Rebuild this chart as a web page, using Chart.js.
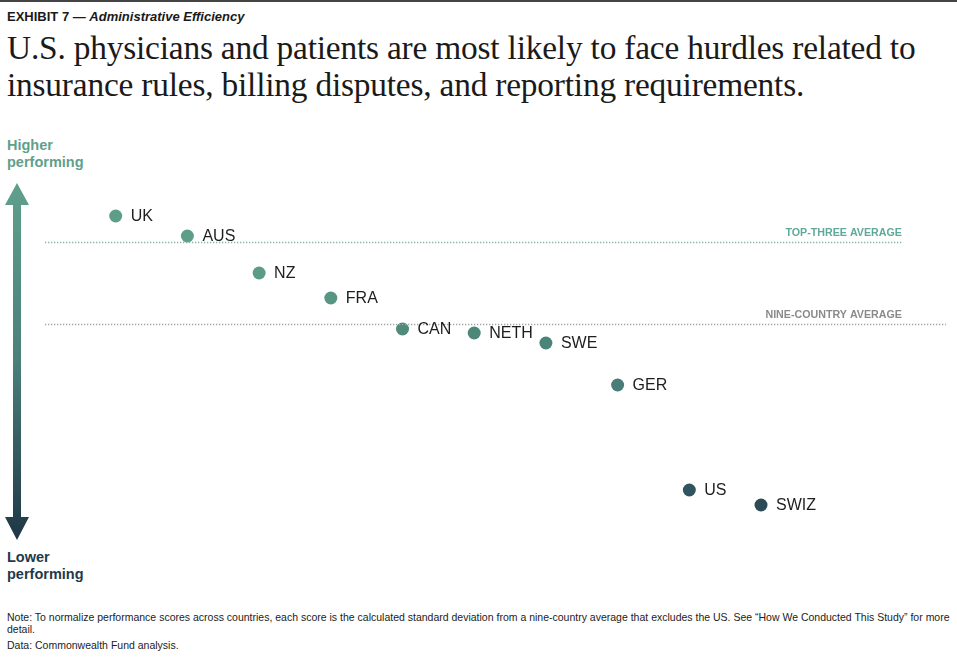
<!DOCTYPE html>
<html>
<head>
<meta charset="utf-8">
<script src="https://cdn.jsdelivr.net/npm/chart.js@4.4.1/dist/chart.umd.min.js"></script>
<style>
  body { margin: 0; background: #fff; width: 957px; height: 661px; overflow: hidden; position: relative; font-family: "Liberation Sans", Arial, sans-serif; }
  .topline { position: absolute; left: 0; top: 0; width: 957px; height: 2px; background: #444; }
  .exhibit { position: absolute; left: 7px; top: 9px; font-size: 13px; font-weight: bold; color: #1a1a1a; }
  .title { position: absolute; left: 7px; top: 29px; font-family: "Liberation Serif", "DejaVu Serif", serif; font-size: 33.4px; line-height: 37px; color: #1a1a1a; letter-spacing: -0.2px; }
  .side { position: absolute; left: 7px; font-size: 14.5px; font-weight: bold; line-height: 17px; }
  .note { position: absolute; left: 7px; font-size: 10.5px; color: #222; line-height: 12px; }
  #wrap { position: absolute; left: 44px; top: 180px; width: 902px; height: 360px; }
</style>
</head>
<body>
<div class="topline"></div>
<div class="exhibit">EXHIBIT 7 — <i>Administrative Efficiency</i></div>
<div class="title">U.S. physicians and patients are most likely to face hurdles related to<br>insurance rules, billing disputes, and reporting requirements.</div>
<div class="side" style="top:137px;color:#5fa08c;">Higher<br>performing</div>
<div class="side" style="top:549px;color:#1f3a4a;">Lower<br>performing</div>
<svg style="position:absolute;left:0;top:178px;" width="36" height="366">
  <defs>
    <linearGradient id="g" x1="0" y1="0" x2="0" y2="1">
      <stop offset="0" stop-color="#5fa08c"/>
      <stop offset="0.5" stop-color="#4a7f7a"/>
      <stop offset="1" stop-color="#1f3646"/>
    </linearGradient>
  </defs>
  <polygon points="17,5 29,27 21,27 21,339 29,339 17,362 5,339 13,339 13,27 5,27" fill="url(#g)"/>
</svg>
<div id="wrap"><canvas id="scatter"></canvas></div>
<div class="note" style="top:611px;width:948px;">Note: To normalize performance scores across countries, each score is the calculated standard deviation from a nine-country average that excludes the US. See “How We Conducted This Study” for more detail.</div>
<div class="note" style="top:639px;">Data: Commonwealth Fund analysis.</div>

<script>
// countries ordered left to right, score = std deviations from nine-country average
let countries = ['UK', 'AUS', 'NZ', 'FRA', 'CAN', 'NETH', 'SWE', 'GER', 'US', 'SWIZ'];
let scores = [1.08, 0.88, 0.51, 0.26, -0.05, -0.09, -0.19, -0.61, -1.66, -1.81];
let dotColors = ['#5e9e88', '#5e9e88', '#5c9b87', '#589684', '#4f8a7a', '#4d877a', '#4b8479', '#4a7d78', '#305561', '#2b4b57'];
let topThreeAvg = (scores[0] + scores[1] + scores[2]) / 3;
let nineAvg = 0;

// labels next to dots + dotted average lines
const extras = {
  id: 'extras',
  afterDatasetsDraw(chart) {
    const c = chart.ctx;
    const xs = chart.scales.x, ys = chart.scales.y;
    const area = chart.chartArea;
    c.save();
    const lines = [
      { v: topThreeAvg, label: 'TOP-THREE AVERAGE', color: '#5fa89a', lineColor: '#84b5aa', end: area.left + 859 },
      { v: nineAvg, label: 'NINE-COUNTRY AVERAGE', color: '#8a8a8a', lineColor: '#a3a3a3', end: area.right }
    ];
    lines.forEach(l => {
      const y = Math.round(ys.getPixelForValue(l.v)) + 0.5;
      c.strokeStyle = l.lineColor;
      c.lineWidth = 1.3;
      c.setLineDash([1.3, 1.7]);
      c.beginPath();
      c.moveTo(area.left + 1, y);
      c.lineTo(l.end, y);
      c.stroke();
      c.setLineDash([]);
      c.fillStyle = l.color;
      c.font = 'bold 10.7px "Liberation Sans", Arial, sans-serif';
      c.textAlign = 'right';
      c.textBaseline = 'alphabetic';
      c.fillText(l.label, area.left + 858, y - 7);
    });
    c.font = '16px "Liberation Sans", Arial, sans-serif';
    c.fillStyle = '#1e1e1e';
    c.textAlign = 'left';
    c.textBaseline = 'middle';
    countries.forEach((name, i) => {
      const x = xs.getPixelForValue(i);
      const y = ys.getPixelForValue(scores[i]);
      c.fillText(name, x + 15, y + 1);
    });
    c.restore();
  }
};

new Chart(document.getElementById('scatter'), {
  type: 'scatter',
  data: {
    datasets: [{
      data: scores.map((s, i) => ({ x: i, y: s })),
      pointRadius: 6.5,
      pointHoverRadius: 6.5,
      pointBackgroundColor: dotColors,
      pointBorderWidth: 0,
      clip: false
    }]
  },
  options: {
    responsive: true,
    maintainAspectRatio: false,
    animation: false,
    layout: { padding: 0, autoPadding: false },
    plugins: { legend: { display: false }, tooltip: { enabled: false } },
    scales: {
      x: { type: 'linear', display: false, min: -1, max: 11.58 },
      y: { type: 'linear', display: false, min: -2.16, max: 1.44 }
    }
  },
  plugins: [extras]
});
</script>
</body>
</html>
